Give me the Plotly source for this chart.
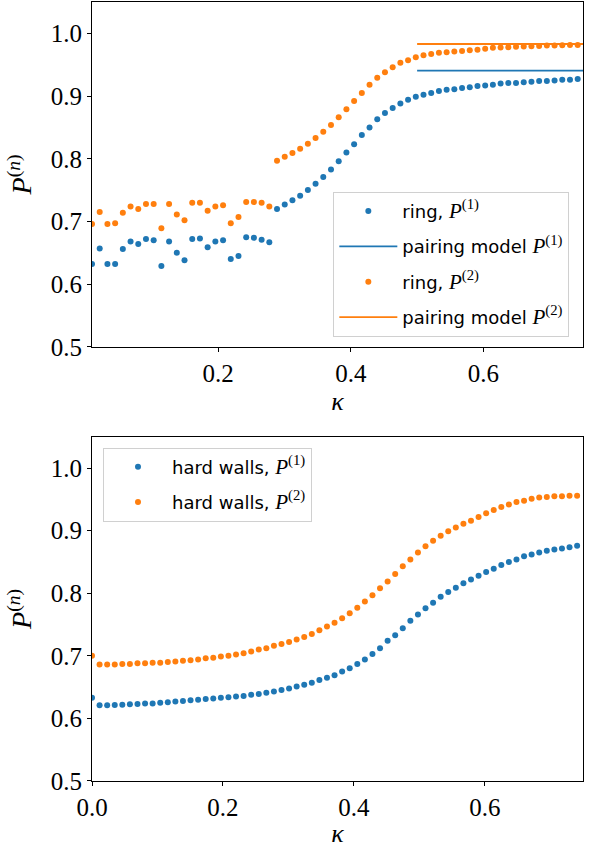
import numpy as np
import plotly.graph_objects as go

# ---------------- data ----------------
# top panel: ring
kappa_ring = np.linspace(0.01, 0.742, 64)
ring_p1 = [0.632, 0.657, 0.632, 0.632, 0.656, 0.668, 0.664, 0.672, 0.670, 0.629,
           0.668, 0.650, 0.638, 0.672, 0.673, 0.659, 0.668, 0.670, 0.640, 0.645,
           0.675, 0.674, 0.671, 0.667,
           0.720, 0.727, 0.734, 0.741, 0.750, 0.760, 0.771, 0.783, 0.796, 0.810,
           0.823, 0.838, 0.850, 0.863, 0.873, 0.881, 0.888, 0.894, 0.899, 0.902,
           0.905, 0.908, 0.910, 0.911, 0.913, 0.914, 0.916, 0.917, 0.918, 0.920,
           0.921, 0.921, 0.922, 0.923, 0.924, 0.924, 0.925, 0.926, 0.926, 0.927]
ring_p2 = [0.696, 0.715, 0.696, 0.697, 0.714, 0.724, 0.720, 0.728, 0.728, 0.689,
           0.728, 0.711, 0.702, 0.730, 0.730, 0.717, 0.724, 0.726, 0.697, 0.707,
           0.731, 0.731, 0.730, 0.724,
           0.797, 0.803, 0.809, 0.816, 0.824, 0.833, 0.843, 0.854, 0.866, 0.879,
           0.892, 0.905, 0.918, 0.929, 0.938, 0.946, 0.953, 0.957, 0.962, 0.965,
           0.967, 0.969, 0.970, 0.971, 0.972, 0.973, 0.974, 0.9755, 0.977, 0.9775,
           0.978, 0.9785, 0.979, 0.9795, 0.980, 0.9805, 0.9805, 0.981, 0.9815, 0.9815]
# pairing model (constant levels for kappa >= 0.5)
pair_kappa = [0.5, 0.75]
pair_p1 = [0.9405, 0.9405]
pair_p2 = [0.983, 0.983]

# bottom panel: hard walls
kappa_hw = np.linspace(0.0, 0.741, 65)
hw_p1 = [0.633, 0.621, 0.621, 0.6215, 0.622, 0.6226, 0.623, 0.6237, 0.624, 0.625,
         0.626, 0.627, 0.628, 0.629, 0.630, 0.631, 0.632, 0.633, 0.634, 0.635,
         0.636, 0.638, 0.639, 0.641, 0.643, 0.6455, 0.648, 0.651, 0.654, 0.657,
         0.6615, 0.665, 0.669, 0.675, 0.680, 0.687, 0.694, 0.703, 0.712, 0.724,
         0.733, 0.744, 0.756, 0.766, 0.776, 0.785, 0.7945, 0.802, 0.809, 0.816,
         0.822, 0.828, 0.834, 0.839, 0.845, 0.850, 0.854, 0.859, 0.862, 0.865,
         0.868, 0.870, 0.8715, 0.8736, 0.876]
hw_p2 = [0.700, 0.686, 0.686, 0.686, 0.687, 0.687, 0.688, 0.688, 0.689, 0.689,
         0.690, 0.691, 0.692, 0.693, 0.694, 0.696, 0.697, 0.699, 0.700, 0.702,
         0.704, 0.707, 0.710, 0.712, 0.716, 0.719, 0.722, 0.726, 0.730, 0.735,
         0.741, 0.747, 0.753, 0.760, 0.768, 0.777, 0.787, 0.797, 0.808, 0.819,
         0.831, 0.843, 0.854, 0.865, 0.875, 0.884, 0.892, 0.899, 0.905, 0.911,
         0.916, 0.922, 0.928, 0.933, 0.938, 0.942, 0.946, 0.948, 0.951, 0.953,
         0.954, 0.955, 0.955, 0.956, 0.956]

y_ticks = [0.5, 0.6, 0.7, 0.8, 0.9, 1.0]
x_ticks_top = [0.2, 0.4, 0.6]
x_ticks_bottom = [0.0, 0.2, 0.4, 0.6]

BLUE = "#1f77b4"
ORANGE = "#ff7f0e"
SERIF = "Liberation Serif"
SANS = "DejaVu Sans"


def lab(name, n):
    return (f'<span style="font-family:{SANS}">{name}</span> '
            f'<span style="font-family:{SERIF};font-size:21px"><i>P</i><sup>({n})</sup></span>')


fig = go.Figure()

fig.add_trace(go.Scatter(x=kappa_ring, y=ring_p1, mode="markers",
                         marker=dict(color=BLUE, size=6), name=lab("ring,", 1),
                         legendgroup="a", xaxis="x", yaxis="y", legend="legend"))
fig.add_trace(go.Scatter(x=pair_kappa, y=pair_p1, mode="lines",
                         line=dict(color=BLUE, width=1.8), name=lab("pairing model", 1),
                         legendgroup="b", xaxis="x", yaxis="y", legend="legend"))
fig.add_trace(go.Scatter(x=kappa_ring, y=ring_p2, mode="markers",
                         marker=dict(color=ORANGE, size=6), name=lab("ring,", 2),
                         legendgroup="c", xaxis="x", yaxis="y", legend="legend"))
fig.add_trace(go.Scatter(x=pair_kappa, y=pair_p2, mode="lines",
                         line=dict(color=ORANGE, width=1.8), name=lab("pairing model", 2),
                         legendgroup="d", xaxis="x", yaxis="y", legend="legend"))

fig.add_trace(go.Scatter(x=kappa_hw, y=hw_p1, mode="markers",
                         marker=dict(color=BLUE, size=6), name=lab("hard walls,", 1),
                         legendgroup="e", xaxis="x2", yaxis="y2", legend="legend2"))
fig.add_trace(go.Scatter(x=kappa_hw, y=hw_p2, mode="markers",
                         marker=dict(color=ORANGE, size=6), name=lab("hard walls,", 2),
                         legendgroup="f", xaxis="x2", yaxis="y2", legend="legend2"))

axis_common = dict(showline=True, linecolor="black", linewidth=1, mirror=True,
                   ticks="outside", ticklen=4, tickcolor="black", tickwidth=1,
                   showgrid=False, zeroline=False,
                   tickfont=dict(family=SERIF, size=25, color="black"))

ytitle = dict(text="<i>P</i><sup>(<i>n</i>)</sup>",
              font=dict(family=SERIF, size=28, color="black"), standoff=10)
xtitle = dict(text="<i>κ</i>", font=dict(family=SERIF, size=26, color="black"), standoff=2)

legend_common = dict(xanchor="left", yanchor="top",
                     bgcolor="rgba(255,255,255,0.8)", bordercolor="#d0d0d0", borderwidth=1,
                     font=dict(family=SANS, size=18, color="black"),
                     tracegroupgap=9, traceorder="grouped", itemwidth=58)

fig.update_layout(
    width=605, height=848,
    margin=dict(l=92, r=22, t=2, b=67, autoexpand=False),
    paper_bgcolor="white", plot_bgcolor="white",
    showlegend=True,
    xaxis=dict(axis_common, range=[0.01, 0.75], tickvals=x_ticks_top,
               ticktext=[f"{v:.1f}" for v in x_ticks_top], anchor="y", title=xtitle),
    yaxis=dict(axis_common, range=[0.5, 1.05], tickvals=y_ticks,
               ticktext=[f"{v:.1f}" for v in y_ticks], domain=[0.5573, 1.0],
               anchor="x", title=ytitle),
    xaxis2=dict(axis_common, range=[0.0, 0.75], tickvals=x_ticks_bottom,
                ticktext=[f"{v:.1f}" for v in x_ticks_bottom], anchor="y2", title=xtitle),
    yaxis2=dict(axis_common, range=[0.5, 1.05], tickvals=y_ticks,
                ticktext=[f"{v:.1f}" for v in y_ticks], domain=[0.0, 0.4418],
                anchor="x2", title=ytitle),
    legend=dict(legend_common, x=0.4915, y=0.7564),
    legend2=dict(legend_common, x=0.0224, y=0.4281),
)

fig.write_html("out.html")
